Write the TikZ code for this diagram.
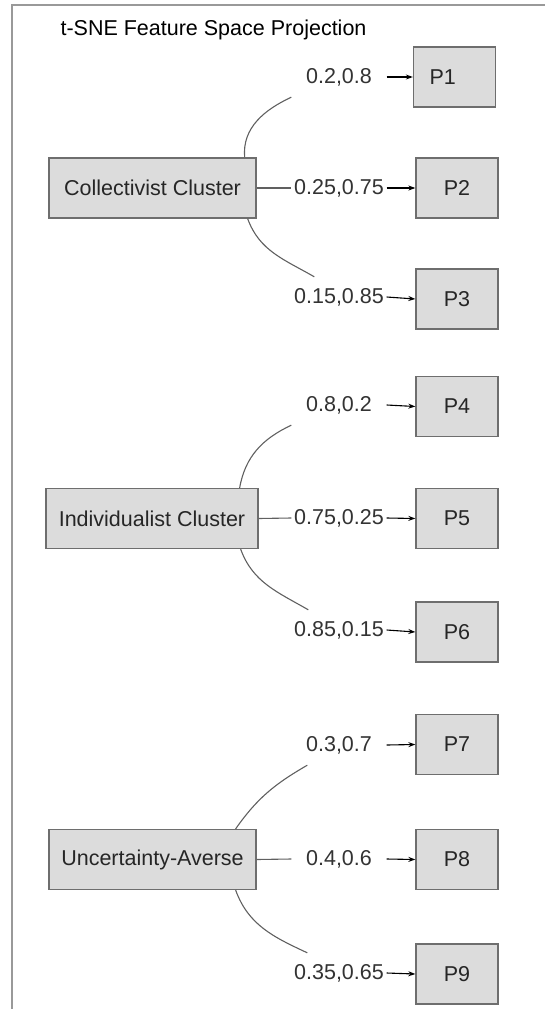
\documentclass[tikz,border=0pt]{standalone}
\usepackage{fontspec}
\setmainfont{Liberation Sans}
\usetikzlibrary{arrows.meta}
\definecolor{boxfill}{HTML}{DCDCDC}
\definecolor{boxline}{HTML}{6E6E6E}
\definecolor{curveline}{HTML}{606060}
\begin{document}
\begin{tikzpicture}[x=1pt,y=-1pt,font=\fontsize{21.5}{26}\selectfont,
  cluster/.style={draw=boxline,fill=boxfill,line width=1.3pt,minimum width=207pt,
    minimum height=60pt,inner sep=0pt,text=black!85},
  pnode/.style={draw=boxline,fill=boxfill,line width=1.3pt,minimum width=82pt,
    minimum height=60pt,inner sep=0pt,text=black!85},
  prob/.style={fill=white,minimum width=95pt,minimum height=40pt,inner sep=0pt,text=black!80},
  link/.style={curveline,line width=1.1pt},
  arr/.style={-{Stealth[length=7pt,width=5pt]},line width=1.1pt}]
\useasboundingbox (0,0) rectangle (545,1009);
\draw[gray!80,line width=1.5pt] (545,5) -- (12,5) -- (12,1009);
\node[anchor=west] (title) at (57,30) {t-SNE Feature Space Projection};

% collectivist
\node[cluster] (c1) at (152.5,188) {Collectivist Cluster};
\node[prob] (l1) at (339,77) {0.2,0.8};
\node[prob] (l2) at (339,188) {0.25,0.75};
\node[prob] (l3) at (339,297) {0.15,0.85};
\node[pnode,text width=50pt,inner xsep=16pt,align=left] (p1) at (454.5,77) {P1};
\node[pnode] (p2) at (457,188) {P2};
\node[pnode] (p3) at (457,299) {P3};
\draw[link] ([xshift=-12pt]c1.north east) to[out=95,in=205] (l1.south west);
\draw[link] (c1.east) -- (l2.west);
\draw[link] ([xshift=-9pt]c1.south east) to[out=-70,in=150] ([xshift=23pt]l3.north west);
\draw[arr] (l1.east) -- (p1.west);
\draw[arr] (l2.east) -- (p2.west);
\draw[arr] (l3.east) -- (p3.west);

% individualist
\node[cluster,minimum width=212pt] (c2) at (152,518.5) {Individualist Cluster};
\node[prob] (l4) at (339,405) {0.8,0.2};
\node[prob] (l5) at (339,518) {0.75,0.25};
\node[prob] (l6) at (339,630) {0.85,0.15};
\node[pnode] (p4) at (457,406.5) {P4};
\node[pnode] (p5) at (457,518.5) {P5};
\node[pnode] (p6) at (457,632) {P6};
\draw[link] ([xshift=-19pt]c2.north east) to[out=80,in=205] (l4.south west);
\draw[link] (c2.east) -- (l5.west);
\draw[link] ([xshift=-18pt]c2.south east) to[out=-70,in=150] ([xshift=17pt]l6.north west);
\draw[arr] (l4.east) -- (p4.west);
\draw[arr] (l5.east) -- (p5.west);
\draw[arr] (l6.east) -- (p6.west);

% uncertainty
\node[cluster] (c3) at (152.5,859.5) {Uncertainty-Averse};
\node[prob] (l7) at (339,745) {0.3,0.7};
\node[prob] (l8) at (339,859) {0.4,0.6};
\node[prob] (l9) at (339,973) {0.35,0.65};
\node[pnode] (p7) at (457,744.5) {P7};
\node[pnode] (p8) at (457,859.5) {P8};
\node[pnode] (p9) at (457,974) {P9};
\draw[link] ([xshift=-21pt]c3.north east) to[out=55,in=210] ([xshift=16pt]l7.south west);
\draw[link] (c3.east) -- (l8.west);
\draw[link] ([xshift=-21pt]c3.south east) to[out=-70,in=155] ([xshift=16pt]l9.north west);
\draw[arr] (l7.east) -- (p7.west);
\draw[arr] (l8.east) -- (p8.west);
\draw[arr] (l9.east) -- (p9.west);
\end{tikzpicture}
\end{document}
